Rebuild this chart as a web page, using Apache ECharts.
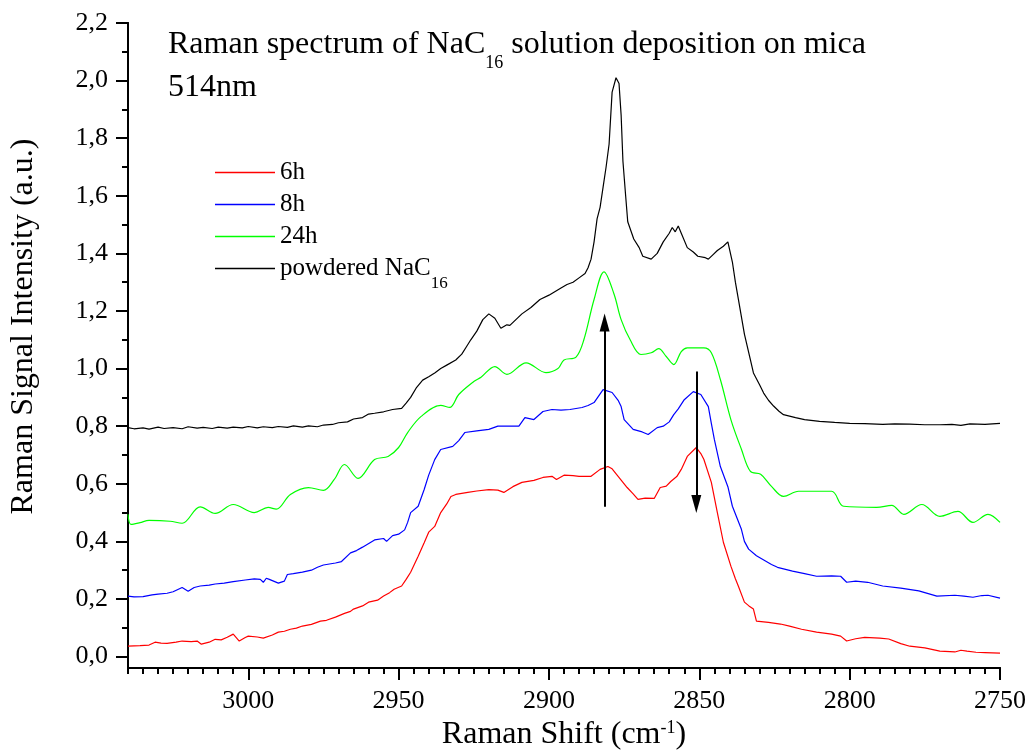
<!DOCTYPE html>
<html>
<head>
<meta charset="utf-8">
<script src="https://cdn.jsdelivr.net/npm/echarts@6/dist/echarts.min.js"></script>
<style>html,body{margin:0;padding:0;background:#fff;}#c{width:1029px;height:756px;}</style>
</head>
<body>
<div id="c"></div>
<script>
// ---- data ----
const seriesNames = ['6h', '8h', '24h', 'powdered NaC16'];
const seriesColors = ['#ff0000', '#0000ff', '#00ff00', '#000000'];

const xTicks = [2750, 2800, 2850, 2900, 2950, 3000];
const yTicks = [0, 0.2, 0.4, 0.6, 0.8, 1.0, 1.2, 1.4, 1.6, 1.8, 2.0, 2.2];

const data6h = [
  [3040,0.036],[3036,0.038],[3033,0.040],[3031,0.050],[3029,0.047],[3027,0.046],[3024,0.050],[3022,0.054],[3019,0.052],[3017,0.054],[3015.6,0.043],
  [3013,0.050],[3011,0.060],[3009,0.058],[3007,0.067],[3005,0.078],[3004,0.066],[3003,0.054],[3001,0.066],[3000,0.071],[2997,0.068],[2995,0.064],[2992,0.075],[2990,0.085],
  [2988,0.088],[2986,0.095],[2984,0.099],[2982,0.106],[2979,0.112],[2976,0.123],[2974,0.126],[2971,0.137],[2968,0.150],[2966,0.157],[2965,0.165],[2962,0.176],[2960,0.189],[2957,0.196],[2955,0.210],
  [2953,0.222],[2951.5,0.234],[2949,0.245],[2947.5,0.268],[2946,0.293],[2943.5,0.348],[2941.5,0.395],[2940,0.432],[2938,0.452],[2936,0.500],[2934,0.530],[2932.6,0.556],
  [2931,0.563],[2927,0.570],[2924,0.575],[2920,0.580],[2917,0.578],[2915,0.570],[2912,0.590],[2909,0.605],[2905,0.612],[2902,0.622],[2899,0.626],[2897.5,0.615],[2897,0.618],
  [2895,0.630],[2892,0.628],[2890,0.626],[2886,0.626],[2883,0.650],[2880.4,0.660],[2879,0.652],[2877,0.626],[2874,0.587],[2872,0.565],[2870.4,0.546],
  [2868,0.550],[2865,0.549],[2863,0.587],[2861,0.592],[2859.5,0.608],[2857.5,0.625],[2856,0.650],[2854,0.695],[2851,0.726],[2849.5,0.705],[2848.5,0.685],[2846,0.605],
  [2844,0.500],[2842,0.397],[2839.5,0.314],[2838,0.270],[2837,0.244],[2835,0.189],[2833.5,0.176],[2832,0.165],[2831,0.123],[2827,0.119],[2823,0.113],[2820,0.106],
  [2816,0.095],[2811,0.085],[2806,0.078],[2803,0.071],[2801,0.054],[2798,0.062],[2795,0.067],[2790,0.064],[2787,0.061],[2783,0.045],[2780,0.036],[2775,0.030],[2770,0.019],
  [2765,0.016],[2763,0.022],[2761,0.019],[2758,0.015],[2755,0.014],[2750,0.012]
];

const data8h = [
  [3040,0.210],[3038,0.207],[3035,0.208],[3032,0.214],[3030,0.217],[3027,0.220],[3025,0.225],[3022,0.240],[3020,0.227],[3018,0.240],[3016,0.245],[3013,0.248],[3011,0.252],
  [3008,0.255],[3005,0.260],[3001,0.266],[2998,0.270],[2996,0.268],[2995,0.258],[2994,0.272],[2993,0.268],[2990,0.255],[2988,0.262],[2987,0.285],[2985,0.288],[2982,0.293],[2979,0.300],
  [2977,0.310],[2975,0.318],[2971,0.325],[2969,0.330],[2966,0.360],[2964,0.368],[2962,0.380],[2958,0.405],[2955,0.410],[2954,0.400],
  [2952,0.420],[2950,0.425],[2948,0.440],[2947,0.466],[2946,0.500],[2943.5,0.522],[2941.5,0.580],[2940,0.630],[2938,0.684],[2936,0.719],
  [2932,0.730],[2930,0.750],[2928,0.778],[2924,0.784],[2920,0.789],[2917,0.800],[2913,0.800],[2910,0.800],[2908,0.830],[2905,0.823],[2902,0.851],
  [2899,0.858],[2896,0.856],[2893,0.858],[2889,0.865],[2887,0.872],[2885,0.882],[2882,0.927],[2879,0.917],[2877,0.890],[2876,0.868],[2875,0.823],
  [2872,0.789],[2869,0.780],[2867,0.771],[2864,0.795],[2862,0.800],[2860,0.815],[2858.5,0.840],[2857,0.860],[2855,0.892],[2852,0.920],[2849.5,0.910],
  [2847,0.868],[2846,0.810],[2845,0.754],[2843,0.660],[2840.5,0.590],[2839,0.522],[2836,0.442],[2835,0.400],[2833.6,0.373],[2831,0.350],[2829,0.338],
  [2826,0.320],[2824,0.310],[2819,0.297],[2815,0.288],[2811,0.279],[2806,0.280],[2803,0.279],[2801,0.258],[2798,0.262],[2794,0.258],[2789,0.245],[2783,0.238],[2777,0.228],
  [2771,0.210],[2765,0.213],[2762,0.210],[2759,0.206],[2756,0.212],[2754,0.213],[2750,0.203]
];

const data24h = [
  [3040,0.494],[3039,0.459],[3036,0.465],[3033,0.473],[3026,0.470],[3022,0.463],[3016,0.520],[3011,0.497],
  [3005,0.528],[2998,0.500],[2993.4,0.518],[2990.7,0.512],[2986,0.563],[2980,0.587],[2975,0.577],[2971.4,0.615],
  [2968,0.667],[2963.5,0.619],[2958,0.684],[2953.5,0.695],[2950,0.726],[2947,0.778],[2942.5,0.834],[2936,0.872],
  [2933,0.865],[2930,0.910],[2925,0.955],[2922.6,0.970],[2918,1.007],[2914,0.980],[2907.6,1.020],[2901,0.986],
  [2897,1.000],[2895,1.030],[2891,1.040],[2888.4,1.100],[2885,1.240],[2881.7,1.336],[2878.4,1.260],[2876,1.170],
  [2873,1.100],[2869.4,1.049],[2866,1.055],[2863.5,1.069],[2861,1.042],[2858.5,1.014],[2856,1.059],[2854,1.072],
  [2848.5,1.072],[2846,1.055],[2843,0.962],[2839.5,0.823],[2836,0.720],[2833,0.643],[2829.6,0.633],[2826,0.591],
  [2822,0.556],[2817,0.574],[2806,0.574],[2802,0.522],[2791,0.518],[2786,0.525],[2782,0.494],[2776,0.528],
  [2770,0.487],[2764,0.504],[2759,0.466],[2754,0.494],[2750,0.466]
];

const dataPowder = [
  [3040,0.795],[3038,0.791],[3035,0.794],[3033,0.790],[3030,0.797],[3028,0.792],[3025,0.795],[3022,0.791],[3020,0.798],[3017,0.793],[3015,0.796],[3012,0.792],
  [3010,0.797],[3007,0.793],[3005,0.797],[3002,0.794],[3000,0.799],[2997,0.794],[2995,0.798],[2992,0.795],[2990,0.799],[2987,0.796],[2985,0.801],[2982,0.797],
  [2980,0.801],[2977,0.798],[2975,0.804],[2972,0.806],[2970,0.812],[2967,0.815],[2965,0.825],[2962,0.830],[2960,0.842],[2958,0.845],[2955,0.850],[2952,0.858],
  [2949,0.862],[2947.5,0.880],[2946,0.900],[2944,0.935],[2942,0.960],[2940,0.972],[2938,0.985],[2936,1.000],[2934,1.012],[2931,1.030],[2929,1.050],[2927.5,1.075],
  [2926,1.100],[2924,1.130],[2922,1.170],[2920,1.190],[2918,1.175],[2916,1.140],[2914,1.152],[2913,1.150],[2911,1.170],[2909,1.190],[2906,1.212],[2903,1.240],
  [2900,1.255],[2896,1.280],[2894,1.292],[2892,1.300],[2890,1.315],[2888,1.330],[2887,1.350],[2886,1.380],[2885,1.440],[2884,1.520],[2883,1.560],[2882,1.630],
  [2881,1.700],[2880,1.780],[2879,1.960],[2877.7,2.010],[2876.7,1.990],[2876,1.880],[2875.4,1.720],[2874.5,1.600],[2873.8,1.510],[2871.8,1.450],[2870,1.420],
  [2868.8,1.390],[2866,1.380],[2864,1.400],[2862,1.440],[2860,1.470],[2859,1.490],[2858,1.475],[2857,1.495],[2856,1.470],[2854,1.420],[2852,1.405],[2850.5,1.390],
  [2848,1.385],[2847,1.380],[2845.5,1.395],[2844,1.410],[2842,1.425],[2840.5,1.440],[2839,1.370],[2838,1.300],[2837,1.240],[2835,1.120],[2833,1.030],[2832,0.985],
  [2830,0.945],[2828.6,0.915],[2827,0.890],[2825.3,0.870],[2823.5,0.852],[2822,0.840],[2818,0.830],[2815,0.823],[2810,0.817],[2805,0.813],[2800,0.810],[2795,0.809],
  [2789,0.806],[2785,0.808],[2780,0.807],[2775,0.805],[2770,0.805],[2766,0.806],[2763,0.803],[2760,0.808],[2755,0.806],[2750,0.810]
];

// arrows: [x, yStart, yEnd]
const arrowUp = [2881.5, 0.52, 1.16];
const arrowDown = [2851, 0.99, 0.53];

// ---- chart ----
const FONT = 'Liberation Serif';
const fmtY = v => v.toFixed(1).replace('.', ',');
const fmtX = v => String(v);
const yMinor = [];
for (let i = 0; i < yTicks.length - 1; i++) yMinor.push(+((yTicks[i] + yTicks[i + 1]) / 2).toFixed(2));
const xMinor = [];
for (let v = 2755; v <= 3040; v += 5) if (v % 50 !== 0) xMinor.push(v);

const chart = echarts.init(document.getElementById('c'), null, { renderer: 'canvas' });
const allData = [data6h, data8h, data24h, dataPowder];
const axisLineStyle = { color: '#000', width: 2 };

const option = {
  animation: false,
  backgroundColor: '#ffffff',
  textStyle: { fontFamily: FONT, color: '#000' },
  title: [
    {
      text: 'Raman spectrum of NaC{sub|16} solution deposition on mica',
      left: 163, top: 21,
      textStyle: {
        fontFamily: FONT, fontSize: 32, fontWeight: 'normal', color: '#000', lineHeight: 37,
        rich: { sub: { fontFamily: FONT, fontSize: 18, color: '#000', verticalAlign: 'top', padding: [28, 0, 0, 0], lineHeight: 18 } }
      }
    },
    {
      text: '514nm',
      left: 163, top: 67,
      textStyle: { fontFamily: FONT, fontSize: 32, fontWeight: 'normal', color: '#000' }
    }
  ],
  legend: {
    orient: 'vertical',
    left: 210, top: 155,
    icon: 'rect',
    itemWidth: 60, itemHeight: 1.3, itemGap: 7,
    data: seriesNames,
    formatter: n => n === 'powdered NaC16' ? 'powdered NaC{sub|16}' : n,
    textStyle: {
      fontFamily: FONT, fontSize: 25, color: '#000',
      rich: { sub: { fontFamily: FONT, fontSize: 17, color: '#000', verticalAlign: 'top', padding: [19, 0, 0, 0], lineHeight: 17 } }
    }
  },
  grid: { left: 127, right: 29, top: 23, bottom: 87, containLabel: false },
  xAxis: [
    {
      type: 'value', min: 2750, max: 3040, inverse: true, position: 'bottom',
      name: 'Raman Shift (cm{sup|-1})', nameLocation: 'middle', nameGap: 48,
      nameTextStyle: {
        fontFamily: FONT, fontSize: 32, color: '#000',
        rich: { sup: { fontFamily: FONT, fontSize: 18, color: '#000', verticalAlign: 'top', lineHeight: 18 } }
      },
      axisLine: { show: true, onZero: false, lineStyle: axisLineStyle },
      axisTick: { show: true, inside: false, length: 12, customValues: xTicks, lineStyle: { color: '#000', width: 2 } },
      axisLabel: { show: true, customValues: xTicks, margin: 20, formatter: fmtX, fontFamily: FONT, fontSize: 26, color: '#000' },
      splitLine: { show: false }
    },
    {
      type: 'value', min: 2750, max: 3040, inverse: true, position: 'bottom',
      axisLine: { show: true, onZero: false, lineStyle: axisLineStyle },
      axisTick: { show: true, inside: false, length: 6, customValues: xMinor, lineStyle: { color: '#000', width: 2 } },
      axisLabel: { show: false },
      splitLine: { show: false }
    }
  ],
  yAxis: [
    {
      type: 'value', min: -0.04, max: 2.2, position: 'left',
      name: 'Raman Signal Intensity (a.u.)', nameLocation: 'middle', nameGap: 88, nameRotate: 90,
      nameTextStyle: { fontFamily: FONT, fontSize: 32, color: '#000', padding: [0, 0, 0, 38] },
      axisLine: { show: true, onZero: false, lineStyle: axisLineStyle },
      axisTick: { show: true, inside: false, length: 12, customValues: yTicks, lineStyle: { color: '#000', width: 2 } },
      axisLabel: { show: true, customValues: yTicks, margin: 20, formatter: fmtY, fontFamily: FONT, fontSize: 26, color: '#000' },
      splitLine: { show: false }
    },
    {
      type: 'value', min: -0.04, max: 2.2, position: 'left',
      axisLine: { show: true, onZero: false, lineStyle: axisLineStyle },
      axisTick: { show: true, inside: false, length: 6, customValues: yMinor, lineStyle: { color: '#000', width: 2 } },
      axisLabel: { show: false },
      splitLine: { show: false }
    }
  ],
  series: seriesNames.map((name, i) => ({
    name: name,
    type: 'line',
    xAxisIndex: 0, yAxisIndex: 0,
    data: allData[i],
    showSymbol: false, symbol: 'none',
    smooth: i === 2 ? 0.35 : false,
    lineStyle: { color: seriesColors[i], width: 1.2 },
    itemStyle: { color: seriesColors[i] },
    z: 3,
    markLine: i === 3 ? {
      silent: true,
      symbol: ['none', 'triangle'],
      symbolSize: [10, 18],
      label: { show: false },
      lineStyle: { color: '#000', width: 2, type: 'solid' },
      itemStyle: { color: '#000' },
      data: [
        [{ coord: [arrowUp[0], arrowUp[1]] }, { coord: [arrowUp[0], arrowUp[2]] }],
        [{ coord: [arrowDown[0], arrowDown[1]] }, { coord: [arrowDown[0], arrowDown[2]] }]
      ]
    } : undefined
  }))
};
chart.setOption(option);
</script>
</body>
</html>
